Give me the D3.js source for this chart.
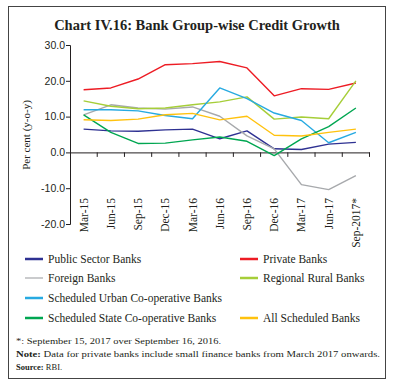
<!DOCTYPE html>
<html>
<head>
<meta charset="utf-8">
<script src="https://cdn.jsdelivr.net/npm/d3@7"></script>
<style>
  body { margin: 0; background: #fff; }
  svg { display: block; }
</style>
</head>
<body>
<div id="chart"></div>
<script>
// ---------------------------------------------
// ---------          Data             ---------
// ---------------------------------------------
const quarters = ["Mar-15", "Jun-15", "Sep-15", "Dec-15", "Mar-16", "Jun-16",
                  "Sep-16", "Dec-16", "Mar-17", "Jun-17", "Sep-2017*"];

const publicSector   = [6.5, 6.0, 5.9, 6.3, 6.5, 3.8, 6.0, 1.0, 0.8, 2.3, 2.8];
const privateBanks   = [17.5, 18.0, 20.5, 24.5, 24.8, 25.4, 23.6, 15.8, 17.8, 17.6, 19.4];
const foreignBanks   = [10.5, 13.3, 12.4, 12.1, 12.7, 10.1, 4.6, 1.0, -9.0, -10.4, -6.5];
const regionalRural  = [14.4, 12.9, 12.2, 12.4, 13.3, 14.1, 15.5, 9.3, 9.9, 9.4, 20.0];
const urbanCoop      = [11.9, 11.9, 11.6, 10.3, 9.4, 18.0, 15.0, 11.0, 8.9, 2.7, 5.6];
const stateCoop      = [10.5, 5.6, 2.5, 2.6, 3.5, 4.3, 3.1, -0.9, 3.8, 7.2, 12.4];
const allScheduled   = [9.1, 8.9, 9.3, 10.5, 10.9, 9.1, 10.1, 4.8, 4.6, 5.6, 6.5];

const yTicks = [30, 20, 10, 0, -10, -20];

const seriesList = [
  { name: "Public Sector Banks", values: publicSector, color: "#2e3192" },
  { name: "Private Banks", values: privateBanks, color: "#ed1c24" },
  { name: "Foreign Banks", values: foreignBanks, color: "#a7a9ac" },
  { name: "Regional Rural Banks", values: regionalRural, color: "#a6ce39" },
  { name: "Scheduled Urban Co-operative Banks", values: urbanCoop, color: "#27aae1" },
  { name: "Scheduled State Co-operative Banks", values: stateCoop, color: "#00a651" },
  { name: "All Scheduled Banks", values: allScheduled, color: "#ffc20e" }
];

// ---------------------------------------------
// ---------    Basic Chart Layout      --------
// ---------------------------------------------
const W = 396, H = 386;
const serif = "'Liberation Serif', 'DejaVu Serif', serif";
const sans = "'Liberation Sans', Arial, sans-serif";

const svg = d3.select("#chart")
  .append("svg")
    .attr("width", W)
    .attr("height", H);

// outer frame
svg.append("rect")
  .attr("x", 8.5).attr("y", 6.5)
  .attr("width", 377).attr("height", 372)
  .attr("fill", "none")
  .attr("stroke", "#444")
  .attr("stroke-width", 1);

// title
svg.append("text")
  .attr("x", 197)
  .attr("y", 30)
  .attr("text-anchor", "middle")
  .attr("font-family", serif)
  .attr("font-weight", "bold")
  .attr("font-size", 14.5)
  .attr("fill", "#231f20")
  .text("Chart IV.16: Bank Group-wise Credit Growth");

const x = d3.scaleBand().domain(quarters).range([70, 369.5]);
const y = d3.scaleLinear().domain([-20, 30]).range([224, 45]);

// Y axis (plain hyphen for negatives, as in the original)
const yAxis = svg.append("g")
  .attr("transform", "translate(70,0)")
  .call(d3.axisLeft(y).tickValues(yTicks).tickSize(4)
    .tickFormat(d => d.toFixed(1)));
yAxis.select(".domain").attr("stroke", "#231f20");
yAxis.selectAll(".tick line").attr("stroke", "#231f20");
yAxis.selectAll(".tick text")
  .attr("font-family", sans)
  .attr("font-size", 10.5)
  .attr("fill", "#231f20")
  .attr("x", -5);

// X axis at zero
const xAxis = svg.append("g")
  .attr("transform", "translate(0," + y(0) + ")")
  .call(d3.axisBottom(x).tickSize(0).tickFormat(""));
xAxis.select(".domain").attr("stroke", "#231f20");

// tick marks on band edges
const edges = quarters.map(q => x(q) + x.bandwidth());
svg.append("g").selectAll("line")
  .data(edges)
  .join("line")
    .attr("x1", d => d).attr("x2", d => d)
    .attr("y1", y(0)).attr("y2", y(0) + 4.5)
    .attr("stroke", "#231f20");

// category labels (rotated)
svg.append("g").selectAll("text")
  .data(quarters)
  .join("text")
    .attr("transform", d => "translate(" + (x(d) + x.bandwidth() / 2 + 4) + ",198) rotate(-90)")
    .attr("text-anchor", "end")
    .attr("font-family", serif)
    .attr("font-size", 11.5)
    .attr("fill", "#231f20")
    .text(d => d);

// y label
svg.append("text")
  .attr("transform", "translate(30,135) rotate(-90)")
  .attr("text-anchor", "middle")
  .attr("font-family", serif)
  .attr("font-size", 11)
  .attr("fill", "#231f20")
  .text("Per cent (y-o-y)");

// ---------------------------------------------
// ---------       Chart Data           --------
// ---------------------------------------------
const line = d3.line()
  .x((d, i) => x(quarters[i]) + x.bandwidth() / 2)
  .y(d => y(d));

svg.append("g").selectAll("path")
  .data(seriesList)
  .join("path")
    .attr("d", d => line(d.values))
    .attr("fill", "none")
    .attr("stroke", d => d.color)
    .attr("stroke-width", 1.4)
    .attr("stroke-linejoin", "round");

// ---------------------------------------------
// ---------          Legend            --------
// ---------------------------------------------
const legendPos = [
  [25, 259], [240, 259],
  [25, 278], [240, 278],
  [25, 298],
  [25, 318], [240, 318]
];

const legend = svg.selectAll(".legend")
  .data(seriesList)
  .join("g")
    .attr("class", "legend")
    .attr("transform", (d, i) => "translate(" + legendPos[i][0] + "," + legendPos[i][1] + ")");

legend.append("line")
  .attr("x1", 0).attr("x2", 18)
  .attr("y1", 0).attr("y2", 0)
  .attr("stroke", d => d.color)
  .attr("stroke-width", d => d.name === "Foreign Banks" ? 1.2 : 2.5);

legend.append("text")
  .attr("x", 23)
  .attr("y", 4)
  .attr("font-family", serif)
  .attr("font-size", 11.5)
  .attr("fill", "#231f20")
  .text(d => d.name);

// ---------------------------------------------
// ---------         Footnotes          --------
// ---------------------------------------------
const notes = svg.append("g")
  .attr("font-family", serif)
  .attr("font-size", 8.5)
  .attr("fill", "#231f20");

notes.append("text")
  .attr("x", 16).attr("y", 344)
  .attr("textLength", 205)
  .attr("lengthAdjust", "spacingAndGlyphs")
  .text("*: September 15, 2017 over September 16, 2016.");

const note = notes.append("text")
  .attr("x", 16).attr("y", 357)
  .attr("textLength", 364)
  .attr("lengthAdjust", "spacingAndGlyphs");
note.append("tspan").attr("font-weight", "bold").text("Note: ");
note.append("tspan").text("Data for private banks include small finance banks from March 2017 onwards.");

const src = notes.append("text")
  .attr("x", 16).attr("y", 369.5);
src.append("tspan").attr("font-weight", "bold").text("Source: ");
src.append("tspan").text("RBI.");
</script>
</body>
</html>
